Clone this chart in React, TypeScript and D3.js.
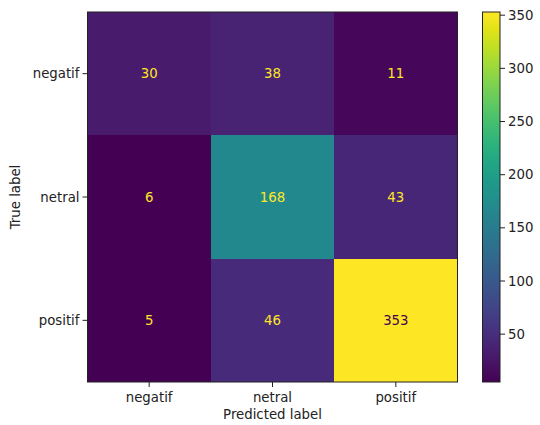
import React from "react";
import * as d3 from "d3";

const labels = ["negatif", "netral", "positif"];
const matrix = [
  [30, 38, 11],
  [6, 168, 43],
  [5, 46, 353],
];
const cbTicks = [50, 100, 150, 200, 250, 300, 350];

export default function App() {
  const W = 540, H = 425;
  const left = 87.5, top = 12, size = 370;
  const flat = matrix.flat();
  const vmin = d3.min(flat)!, vmax = d3.max(flat)!;
  const color = (v: number) => d3.interpolateViridis((v - vmin) / (vmax - vmin));
  const x = d3.scaleBand().domain(labels).range([left, left + size]);
  const y = d3.scaleBand().domain(labels).range([top, top + size]);
  const cbX = 482.5, cbW = 17.5;
  const cbY = d3.scaleLinear().domain([vmin, vmax]).range([top + size, top]);
  const thresh = (vmin + vmax) / 2;
  const font = "DejaVu Sans, sans-serif";
  const fs = 13.3;
  const stops = d3.range(0, 1.0001, 0.05);
  return (
    <svg width={W} height={H} style={{ position: "absolute", left: 0, top: 0 }} fontFamily={font}>
      <defs>
        <linearGradient id="vir" x1="0" y1="1" x2="0" y2="0">
          {stops.map((t) => (
            <stop key={t} offset={t} stopColor={d3.interpolateViridis(t)} />
          ))}
        </linearGradient>
      </defs>
      <rect width={W} height={H} fill="#fff" />
      {matrix.map((row, i) =>
        row.map((v, j) => (
          <g key={`${i}-${j}`}>
            <rect x={x(labels[j])} y={y(labels[i])} width={x.bandwidth()} height={y.bandwidth()} fill={color(v)} shapeRendering="crispEdges" />
            <text x={x(labels[j])! + x.bandwidth() / 2} y={y(labels[i])! + y.bandwidth() / 2} dy="0.35em" textAnchor="middle" fontSize={fs} fill={v < thresh ? d3.interpolateViridis(1) : d3.interpolateViridis(0)}>
              {v}
            </text>
          </g>
        ))
      )}
      <rect x={left} y={top} width={size} height={size} fill="none" stroke="#222" strokeWidth={1} />
      {labels.map((l) => (
        <g key={"x" + l}>
          <line x1={x(l)! + x.bandwidth() / 2} x2={x(l)! + x.bandwidth() / 2} y1={top + size} y2={top + size + 5} stroke="#222" />
          <text x={x(l)! + x.bandwidth() / 2} y={top + size + 20} textAnchor="middle" fontSize={fs} fill="#222">{l}</text>
        </g>
      ))}
      {labels.map((l) => (
        <g key={"y" + l}>
          <line x1={left - 5} x2={left} y1={y(l)! + y.bandwidth() / 2} y2={y(l)! + y.bandwidth() / 2} stroke="#222" />
          <text x={left - 8} y={y(l)! + y.bandwidth() / 2} dy="0.35em" textAnchor="end" fontSize={fs} fill="#222">{l}</text>
        </g>
      ))}
      <text x={left + size / 2} y={419} textAnchor="middle" fontSize={fs} fill="#222">Predicted label</text>
      <text transform={`translate(20,${top + size / 2}) rotate(-90)`} textAnchor="middle" fontSize={fs} fill="#222">True label</text>
      <rect x={cbX} y={top} width={cbW} height={size} fill="url(#vir)" stroke="#222" strokeWidth={1} />
      {cbTicks.map((t) => (
        <g key={"c" + t}>
          <line x1={cbX + cbW} x2={cbX + cbW + 5} y1={cbY(t)} y2={cbY(t)} stroke="#222" />
          <text x={cbX + cbW + 8} y={cbY(t)} dy="0.35em" fontSize={fs} fill="#222">{t}</text>
        </g>
      ))}
    </svg>
  );
}
